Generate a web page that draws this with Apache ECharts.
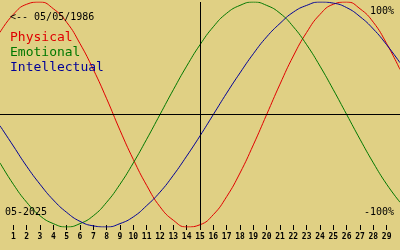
<!DOCTYPE html>
<html>
<head>
<meta charset="utf-8">
<script src="https://cdn.jsdelivr.net/npm/echarts@6/dist/echarts.min.js"></script>
<style>
html,body{margin:0;padding:0;background:#e0d084;}
#c{width:400px;height:250px;}
</style>
</head>
<body>
<div id="c"></div>
<script>
// Days of the month (0..30), ticks/labels shown for 1..29
const days = ['0','1','2','3','4','5','6','7','8','9','10','11','12','13','14','15','16','17','18','19','20','21','22','23','24','25','26','27','28','29','30'];
const tickLabels = ['1','2','3','4','5','6','7','8','9','10','11','12','13','14','15','16','17','18','19','20','21','22','23','24','25','26','27','28','29'];
const todayDay = '15';
// Biorhythm values (%), one per day 0..30
const physical     = [73, 89, 98, 100, 94, 82, 63, 40, 14, -14, -40, -63, -82, -94, -100, -98, -89, -73, -52, -27, 0, 27, 52, 73, 89, 98, 100, 94, 82, 63, 40];
const emotional    = [-43, -62, -78, -90, -97, -100, -97, -90, -78, -62, -43, -22, 0, 22, 43, 62, 78, 90, 97, 100, 97, 90, 78, 62, 43, 22, 0, -22, -43, -62, -78];
const intellectual = [-10, -28, -46, -62, -76, -87, -95, -99, -100, -97, -91, -81, -69, -54, -37, -19, 0, 19, 37, 54, 69, 81, 91, 97, 100, 99, 95, 87, 76, 62, 46];
const seriesNames = ['Physical', 'Emotional', 'Intellectual'];
const colors = ['#e00000', '#007800', '#000098'];
const birthLabel = '<-- 05/05/1986';
const monthLabel = '05-2025';
const topLabel = '100%';
const bottomLabel = '-100%';

const mono = '"DejaVu Sans Mono", "Liberation Mono", monospace';
const showIdx = (i) => tickLabels.indexOf(days[i]) >= 0;

const chart = echarts.init(document.getElementById('c'), null, {renderer: 'canvas'});
chart.setOption({
  animation: false,
  backgroundColor: '#e0d084',
  grid: {left: 0, right: 0, top: 2, bottom: 23},
  xAxis: {
    type: 'category',
    data: days,
    boundaryGap: false,
    offset: -2,
    axisLine: {show: false, onZero: false},
    axisTick: {show: true, length: 5, interval: showIdx, lineStyle: {color: '#000', width: 1}},
    axisLabel: {show: true, interval: showIdx, margin: 8, color: '#000', fontFamily: mono, fontSize: 8, fontWeight: 'bold'},
    splitLine: {show: false}
  },
  yAxis: {type: 'value', min: -100, max: 100, show: false},
  series: [
    {
      name: seriesNames[0], type: 'line', data: physical, smooth: true, showSymbol: false,
      lineStyle: {color: colors[0], width: 1}, itemStyle: {color: colors[0]}, z: 3,
      markLine: {
        silent: true, symbol: 'none', label: {show: false},
        lineStyle: {color: '#000', width: 1, type: 'solid'},
        data: [{xAxis: todayDay}, {yAxis: 0}]
      }
    },
    {name: seriesNames[1], type: 'line', data: emotional, smooth: true, showSymbol: false,
      lineStyle: {color: colors[1], width: 1}, itemStyle: {color: colors[1]}, z: 3},
    {name: seriesNames[2], type: 'line', data: intellectual, smooth: true, showSymbol: false,
      lineStyle: {color: colors[2], width: 1}, itemStyle: {color: colors[2]}, z: 3}
  ],
  graphic: [
    {type: 'text', left: 10, top: 12, z: 10, style: {text: birthLabel, fill: '#000', font: '10px ' + mono}},
    {type: 'text', left: 10, top: 31, z: 10, style: {text: seriesNames[0], fill: colors[0], font: '13px ' + mono}},
    {type: 'text', left: 10, top: 46, z: 10, style: {text: seriesNames[1], fill: colors[1], font: '13px ' + mono}},
    {type: 'text', left: 10, top: 61, z: 10, style: {text: seriesNames[2], fill: colors[2], font: '13px ' + mono}},
    {type: 'text', left: 5, top: 207, z: 10, style: {text: monthLabel, fill: '#000', font: '10px ' + mono}},
    {type: 'text', right: 6, top: 6, z: 10, style: {text: topLabel, fill: '#000', font: '10px ' + mono}},
    {type: 'text', right: 6, top: 207, z: 10, style: {text: bottomLabel, fill: '#000', font: '10px ' + mono}}
  ]
});
</script>
</body>
</html>
